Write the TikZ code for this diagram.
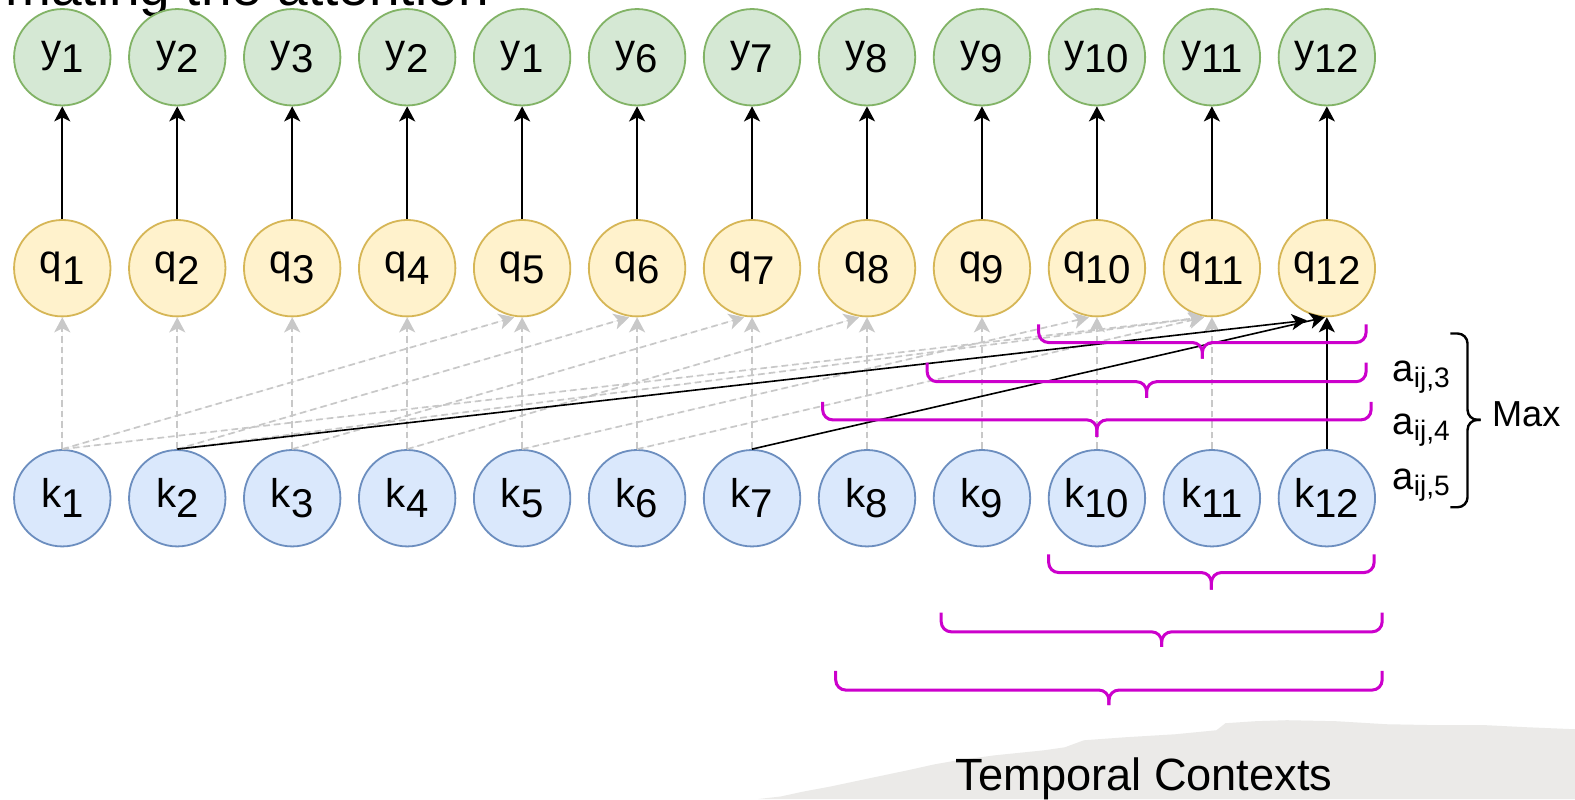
\documentclass[tikz,border=0pt]{standalone}
\usepackage{fontspec}
\setmainfont{Liberation Sans}
\usetikzlibrary{arrows.meta}

\definecolor{yfill}{HTML}{D5E8D4}
\definecolor{yline}{HTML}{82B366}
\definecolor{qfill}{HTML}{FFF2CC}
\definecolor{qline}{HTML}{D6B656}
\definecolor{kfill}{HTML}{DAE8FC}
\definecolor{kline}{HTML}{6C8EBF}
\definecolor{linkgray}{HTML}{C8C8C8}
\definecolor{bracemag}{HTML}{CC00CC}
\definecolor{paper}{HTML}{EBEAE8}

% index written full size, just lowered
\newcommand\subl[2]{#1\raisebox{-5pt}{#2}}
% weight label a_{ij,n}
\newcommand\wlab[1]{a\raisebox{-3pt}{\fontsize{14}{16}\selectfont ij,#1}}

\begin{document}
\begin{tikzpicture}[x=0.5pt,y=-0.5pt,
  cnode/.style={circle, minimum size=48pt, inner sep=0pt, line width=0.9pt,
    font=\fontsize{20}{24}\selectfont},
  ynode/.style={cnode, draw=yline, fill=yfill},
  qnode/.style={cnode, draw=qline, fill=qfill},
  knode/.style={cnode, draw=kline, fill=kfill},
  headed/.style={-{Stealth[length=7.5pt,width=8pt,inset=2pt]}},
  dlink/.style={headed, draw=linkgray, fill=linkgray, line width=0.85pt,
    dash pattern=on 3.3pt off 2pt},
  solidlink/.style={headed, draw=black, line width=0.8pt},
  brace/.style={draw=bracemag, line width=1.5pt, rounded corners=5pt},
  maxbrace/.style={draw=black, line width=1.2pt, rounded corners=5pt},
]
\useasboundingbox (0,0) rectangle (1568,795.45);
\fill[white] (0,0) rectangle (1568,795.45);

% torn paper strip behind the caption
\fill[paper] (755,795.45) -- (777,793) -- (800,788) -- (827,783) -- (860,776)
  -- (903,767) -- (930,761) -- (953,757) -- (990,752) -- (1039,747)
  -- (1060,744) -- (1079,737) -- (1120,734) -- (1170,731) -- (1211,727)
  -- (1220,720) -- (1250,718) -- (1281,717) -- (1330,718) -- (1380,721)
  -- (1433,722) -- (1480,722) -- (1520,724) -- (1568,726) -- (1568,795.45) -- cycle;

% heading, cut by the top edge
\node[anchor=base east, inner sep=0pt, font=\fontsize{27.4}{32}\selectfont]
  (heading) at (487,5) {mating the attention};

% three rows of units
\foreach \i/\ys in {1/1,2/2,3/3,4/2,5/1,6/6,7/7,8/8,9/9,10/10,11/11,12/12} {
  \pgfmathsetmacro\cx{62+114.45*(\i-1)}
  \node[ynode] (y\i) at (\cx,57) {\subl{y}{\ys}};
  \node[qnode] (q\i) at (\cx,267) {\subl{q}{\i}};
  \node[knode] (k\i) at (\cx,496) {\subl{k}{\i}};
}

% outputs
\foreach \i in {1,...,12} \draw[solidlink] (q\i.north) -- (y\i.south);

% attention links
\foreach \i in {1,...,11} \draw[dlink] (k\i.north) -- (q\i.south);
\foreach \a/\b in {1/5,2/6,3/7,4/8,5/10,6/11,1/11,2/11}
  \draw[dlink] (k\a.north) -- ([xshift=-4pt]q\b.south);
\draw[solidlink] (k2.north) -- ([xshift=-10pt,yshift=-1.5pt]q12.south);
\draw[solidlink] (k7.north) -- ([xshift=-1pt]q12.south);
\draw[solidlink] (k12.north) -- (q12.south);

% temporal context braces
\foreach \xl/\xr/\yt/\yh/\yp in {1034/1360/323/341/357, 923/1360/361/380/396,
    819/1365/400/418/435, 1044/1368/552/570/587, 937/1376/610/629/644,
    832/1376/668/687/702} {
  \pgfmathsetmacro\xm{(\xl+\xr)/2}
  \draw[brace] (\xl,\yt) -- (\xl,\yh) -- (\xm,\yh) -- (\xm,\yp);
  \draw[brace] (\xr,\yt) -- (\xr,\yh) -- (\xm,\yh) -- (\xm,\yp);
}

% weights and their maximum
\node[anchor=base west, inner sep=0pt, font=\fontsize{19}{23}\selectfont]
  (a3) at (1386,380) {\wlab{3}};
\node[anchor=base west, inner sep=0pt, font=\fontsize{19}{23}\selectfont]
  (a4) at (1386,433) {\wlab{4}};
\node[anchor=base west, inner sep=0pt, font=\fontsize{19}{23}\selectfont]
  (a5) at (1386,487) {\wlab{5}};
\draw[maxbrace] (1444,332) -- (1461,332) -- (1461,418) -- (1474,418);
\draw[maxbrace] (1444,505) -- (1461,505) -- (1461,418) -- (1474,418);
\node[anchor=base west, inner sep=0pt, font=\fontsize{18}{22}\selectfont]
  (maxlab) at (1485,425) {Max};

% caption
\node[anchor=base west, inner sep=0pt, font=\fontsize{22.5}{27}\selectfont]
  (ctx) at (951,787) {Temporal Contexts};
\end{tikzpicture}
\end{document}
